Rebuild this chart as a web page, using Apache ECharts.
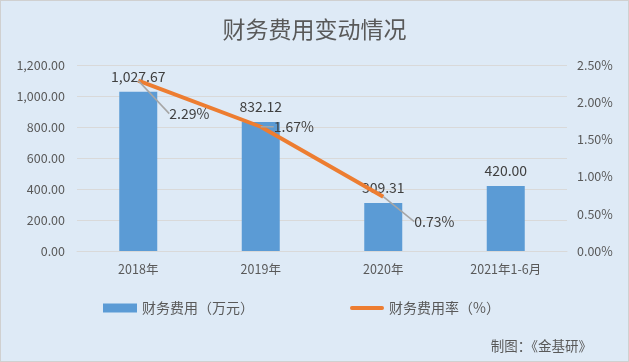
<!DOCTYPE html>
<html><head><meta charset="utf-8">
<script src="https://cdn.jsdelivr.net/npm/echarts@6/dist/echarts.min.js"></script>
<style>html,body{margin:0;padding:0;background:#fff}#c{width:629px;height:362px;box-sizing:border-box;border:1px solid #d0d0d0}</style>
</head><body><div id="c"></div>
<script>
const categories = ['2018年','2019年','2020年','2021年1-6月'];
const expense = [1027.67, 832.12, 309.31, 420.00];
const rate = [2.29, 1.67, 0.73, null];
const leftTicks = {min:0, max:1200, interval:200};
const rightTicks = {min:0, max:2.5, interval:0.5};
const rateLabelShift = [[25,33],[7,0],[25,25],[0,0]];

const chart = echarts.init(document.getElementById('c'));
const font = '"Noto Sans CJK SC",sans-serif';
chart.setOption({
  backgroundColor:'#DEEAF6',
  textStyle:{fontFamily:font},
  title:[{text:'财务费用变动情况',left:'center',top:12,textStyle:{fontSize:23,fontWeight:'normal',color:'#595959',fontFamily:font}},
         {text:'制图：《金基研》',right:31,bottom:3,textStyle:{fontSize:13.5,fontWeight:'normal',color:'#595959',fontFamily:font}}],
  grid:{left:76,right:61,top:64,bottom:110},
  legend:{bottom:41,left:97,itemGap:96,textStyle:{fontSize:14,color:'#595959'},
    data:[{name:'财务费用（万元）',icon:'rect',itemStyle:{color:'#5B9BD5'}},
          {name:'财务费用率（%）',icon:'path://M2,0 L34,0 A2,2 0 0 1 34,4 L2,4 A2,2 0 0 1 2,0 Z',itemStyle:{color:'#ED7D31'}}],
    itemWidth:34,itemHeight:9},
  xAxis:{type:'category',data:categories,axisTick:{show:false},
    axisLine:{lineStyle:{color:'#d9d9d9'}},
    axisLabel:{color:'#595959',fontSize:12.5,margin:12}},
  yAxis:[{type:'value',min:leftTicks.min,max:leftTicks.max,interval:leftTicks.interval,
    axisLabel:{color:'#595959',fontSize:12.5,margin:12,formatter:v=>v.toLocaleString('en-US',{minimumFractionDigits:2,maximumFractionDigits:2})},
    splitLine:{lineStyle:{color:'#d9d9d9'}},axisLine:{show:false},axisTick:{show:false}},
   {type:'value',min:rightTicks.min,max:rightTicks.max,interval:rightTicks.interval,
    axisLabel:{color:'#595959',fontSize:12.5,margin:10,formatter:v=>v.toFixed(2)+'%'},
    splitLine:{show:false},axisLine:{show:false},axisTick:{show:false}}],
  series:[
    {name:'财务费用（万元）',type:'bar',data:expense,barWidth:38,itemStyle:{color:'#5B9BD5'},z:2,
     label:{show:true,position:'top',distance:8,color:'#404040',fontSize:14,
       formatter:p=>p.value.toLocaleString('en-US',{minimumFractionDigits:2,maximumFractionDigits:2})}},
    {name:'财务费用率（%）',type:'line',yAxisIndex:1,data:rate,symbol:'circle',symbolSize:0,showSymbol:true,
     lineStyle:{color:'#ED7D31',width:4},itemStyle:{color:'#ED7D31'},z:3,
     label:{show:true,position:'right',distance:6,color:'#404040',fontSize:14,formatter:p=>p.value.toFixed(2)+'%'},
     labelLine:{show:true,lineStyle:{color:'#a6a6a6',width:1.5}},
     labelLayout:function(p){const s=rateLabelShift[p.dataIndex];return {dx:s[0],dy:s[1]};}}
  ]
});
</script></body></html>
